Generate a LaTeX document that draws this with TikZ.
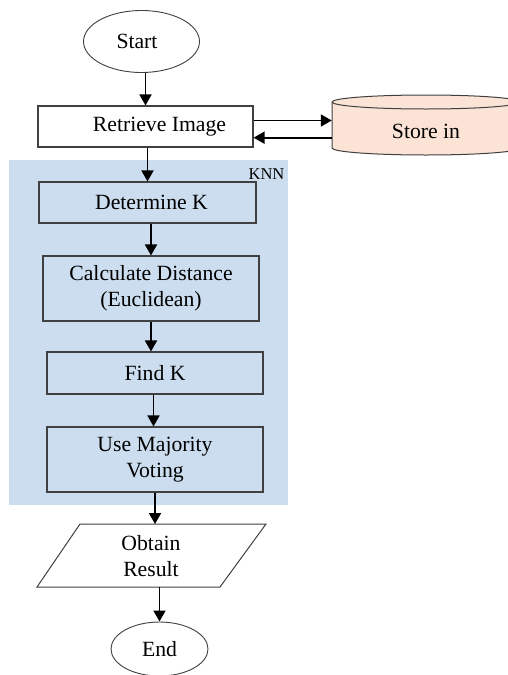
\documentclass[tikz,border=0pt]{standalone}
\usepackage{fontspec}
\setmainfont{Liberation Serif}
\usetikzlibrary{shapes.geometric,arrows.meta,calc}
\definecolor{knnblue}{HTML}{CBDDEE}
\definecolor{peach}{HTML}{FBE4D6}
\definecolor{edgegray}{HTML}{404040}
\begin{document}
\begin{tikzpicture}[x=1pt,y=-1pt,
  txt/.style={font=\fontsize{21.7}{26}\selectfont, align=center, text=black},
  procbox/.style={txt, draw=edgegray, line width=1.1pt, rectangle, inner sep=0pt},
  term/.style={txt, draw=edgegray, line width=0.9pt, ellipse, inner sep=0pt, fill=white},
  arr/.style={line width=1.8pt, -{Triangle[length=11pt,width=12pt]}},
]
\useasboundingbox (0,0) rectangle (508,675);
\clip (0,0) rectangle (508,675);
\fill[white] (0,0) rectangle (508,675);
% KNN background
\fill[knnblue] (9,160) rectangle (288,505);
\node[font=\fontsize{16.5}{18}\selectfont] (knn) at (266.5,174) {KNN};

% terminals
\node[term, minimum width=116pt, minimum height=62pt] (start) at (141.5,41.5) {Start\hspace*{9pt}};
\node[term, minimum width=97pt, minimum height=54pt] (end) at (159.5,649) {End};

% process boxes
\node[procbox, fill=white, minimum width=215pt, minimum height=41pt] (retrieve) at (145.5,126.5) {\hspace*{28pt}Retrieve Image};
\node[procbox, minimum width=217pt, minimum height=41pt] (determine) at (147.5,202.5) {\hspace*{8pt}Determine K};
\node[procbox, minimum width=216pt, minimum height=65pt] (calc) at (151,288.5) {Calculate Distance\\(Euclidean)};
\node[procbox, minimum width=216pt, minimum height=42pt] (findk) at (155,373) {Find K};
\node[procbox, minimum width=216pt, minimum height=65pt] (majority) at (155,459.5) {Use Majority\\Voting};

% data store (cylinder)
\path[fill=peach, draw=edgegray, line width=1pt]
  (332,102) -- (332,148) arc[start angle=180, end angle=0, x radius=94, y radius=7]
  -- (520,102) arc[start angle=360, end angle=180, x radius=94, y radius=7] -- cycle;
\draw[edgegray, line width=1pt] (332,102) arc[start angle=180, end angle=0, x radius=94, y radius=7];
\node[txt, minimum width=188pt, minimum height=46pt, inner sep=0pt] (store) at (426,131) {Store in};

% input/output parallelogram
\path[fill=white, draw=edgegray, line width=1pt] (80,524) -- (266,524) -- (220,587) -- (37,587) -- cycle;
\node[txt, minimum width=140pt, minimum height=63pt, inner sep=0pt] (obtain) at (151,556.5) {Obtain\\Result};

% connectors
\draw[arr] (start.south -| retrieve.north) -- (retrieve.north);
\draw[arr] (retrieve.east |- 0,120.5) -- (store.west |- 0,120.5);
\draw[arr] (store.west |- 0,137.7) -- (retrieve.east |- 0,137.7);
\draw[arr] (retrieve.south -| determine.north) -- (determine.north);
\draw[arr] (determine.south -| calc.north) -- (calc.north);
\draw[arr] (calc.south) -- (calc.south |- findk.north);
\draw[arr] ($(findk.south)+(-1.5,0)$) -- ($(findk.south |- majority.north)+(-1.5,0)$);
\draw[arr] (majority.south) -- (majority.south |- 0,524);
\draw[arr] (end.north |- 0,587) -- (end.north);
\end{tikzpicture}
\end{document}
